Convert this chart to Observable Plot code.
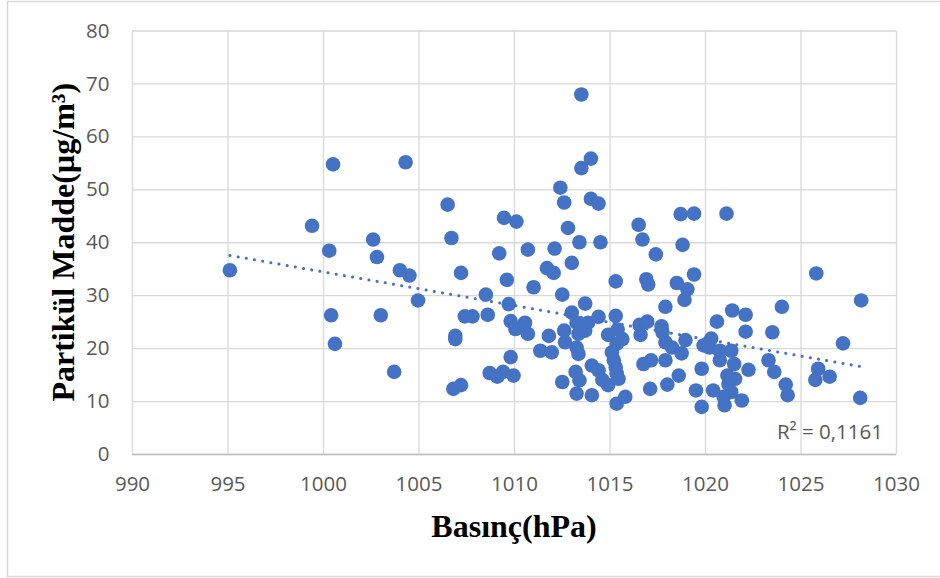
<!DOCTYPE html>
<html>
<head>
<meta charset="utf-8">
<script src="https://cdn.jsdelivr.net/npm/d3@7"></script>
<script src="https://cdn.jsdelivr.net/npm/@observablehq/plot@0.6"></script>
<style>
  html, body { margin: 0; padding: 0; background: #fff; }
  #chart { width: 940px; height: 578px; }
</style>
</head>
<body>
<div id="chart"></div>
<script>
const pressure = [
  995.1, 999.4, 1000.5, 1000.3, 1000.4, 1000.6, 1002.6, 1002.8, 1003.0, 1003.7,
  1004.0, 1004.5, 1004.3, 1004.95, 1006.5, 1006.7, 1006.9, 1006.9, 1006.8, 1007.2,
  1007.2, 1007.4, 1007.8, 1008.5, 1008.6, 1008.7, 1009.1, 1009.45, 1009.2, 1009.6,
  1009.7, 1009.8, 1009.8, 1009.4, 1009.95, 1010.1, 1010.05, 1010.55, 1010.7, 1010.7,
  1011.0, 1011.35, 1011.95, 1011.7, 1012.05, 1011.8, 1012.1, 1012.4, 1012.6, 1012.8,
  1012.5, 1013.0, 1012.6, 1012.65, 1012.5, 1013.0, 1013.25, 1013.85, 1013.35, 1013.7,
  1013.25, 1013.35, 1013.2, 1013.4, 1013.25, 1013.5, 1013.5, 1014.0, 1014.0, 1014.4,
  1013.4, 1014.5, 1013.7, 1014.4, 1014.05, 1014.4, 1014.6, 1014.9, 1014.05, 1014.9,
  1015.4, 1015.65, 1015.35, 1015.1, 1015.2, 1015.3, 1015.35, 1015.45, 1015.35, 1015.8,
  1015.3, 1015.3, 1016.5, 1016.7, 1017.4, 1018.7, 1019.4, 1018.8, 1019.4, 1016.9,
  1017.0, 1018.5, 1019.05, 1018.9, 1017.9, 1016.55, 1016.95, 1017.7, 1016.6, 1017.75,
  1017.9, 1018.25, 1018.95, 1018.75, 1019.9, 1016.75, 1017.15, 1017.9, 1018.6, 1018.0,
  1017.1, 1019.5, 1019.8, 1019.8, 1021.1, 1020.3, 1020.2, 1020.75, 1021.35, 1020.75,
  1021.5, 1022.25, 1021.15, 1021.55, 1021.2, 1021.35, 1020.4, 1020.95, 1021.0, 1021.9,
  1021.4, 1022.1, 1024.0, 1020.6, 1022.1, 1023.5, 1023.3, 1023.6, 1024.2, 1024.3,
  1025.8, 1025.9, 1026.5, 1025.75, 1027.2, 1028.15, 1028.1
];
const pm = [
  34.8, 43.2, 54.8, 38.5, 26.3, 20.9, 40.6, 37.3, 26.3, 15.6,
  34.8, 33.8, 55.2, 29.1, 47.2, 40.9, 22.4, 21.8, 12.4, 13.1,
  34.3, 26.1, 26.1, 30.2, 26.4, 15.4, 14.7, 44.7, 38.0, 33.0,
  28.4, 25.2, 18.4, 15.6, 14.9, 44.0, 23.7, 24.9, 22.8, 38.7,
  31.6, 19.6, 19.3, 35.2, 34.3, 22.4, 38.9, 50.4, 47.6, 42.8,
  30.2, 36.2, 23.4, 21.2, 13.7, 26.8, 24.9, 24.9, 22.8, 23.4,
  20.2, 19.0, 15.6, 14.0, 11.5, 68.0, 54.1, 55.9, 48.3, 47.4,
  40.1, 40.1, 28.5, 26.0, 16.8, 15.9, 14.1, 13.1, 11.2, 22.6,
  23.6, 21.8, 20.9, 19.3, 17.8, 16.5, 15.3, 14.3, 9.6, 10.9,
  26.2, 32.7, 43.4, 40.6, 37.8, 45.4, 45.5, 39.6, 34.0, 33.1,
  32.1, 32.4, 31.2, 29.2, 27.9, 24.5, 25.1, 24.2, 22.6, 23.1,
  21.2, 20.2, 21.6, 19.1, 20.6, 17.1, 17.8, 17.8, 14.9, 13.2,
  12.4, 12.1, 16.2, 9.0, 45.5, 21.9, 20.2, 19.6, 19.6, 17.8,
  17.1, 16.0, 14.9, 14.3, 13.3, 11.8, 12.1, 10.9, 9.3, 10.2,
  27.2, 26.4, 27.9, 25.1, 23.2, 23.1, 17.8, 15.6, 13.2, 11.2,
  34.2, 16.2, 14.7, 14.1, 21.0, 29.1, 10.7
];
const trendX = [995.1, 1028.15];
const trendY = [37.6, 16.6];
const xTicks = [990, 995, 1000, 1005, 1010, 1015, 1020, 1025, 1030];
const yTicks = [0, 10, 20, 30, 40, 50, 60, 70, 80];
const xTitle = "Basınç(hPa)";
const yTitle = "Partikül Madde(µg/m³)";
const r2Label = "R² = 0,1161";

const points = pressure.map((p, i) => ({x: p, y: pm[i]}));
const trend = trendX.map((x, i) => ({x, y: trendY[i]}));

const W = 940, H = 578;
const plot = Plot.plot({
  width: W,
  height: H,
  marginLeft: 132,
  marginRight: 44,
  marginTop: 30.5,
  marginBottom: 124,
  style: {fontFamily: "'Open Sans', sans-serif", fontSize: "20.5px", color: "#595959", background: "#fff"},
  x: {domain: [990, 1030], ticks: xTicks, label: null},
  y: {domain: [0, 80], ticks: yTicks, label: null},
  marks: [
    Plot.gridX(xTicks, {stroke: "#d9d9d9", strokeOpacity: 1, strokeWidth: 1.3}),
    Plot.gridY(yTicks, {stroke: "#d9d9d9", strokeOpacity: 1, strokeWidth: 1.3}),
    Plot.ruleY([0], {stroke: "#bfbfbf", strokeWidth: 1.3}),
    Plot.axisX(xTicks, {tickSize: 0, tickPadding: 22, label: null, fill: "#595959", tickFormat: d => String(d)}),
    Plot.axisY(yTicks, {tickSize: 0, tickPadding: 23, label: null, fill: "#595959", tickFormat: d => String(d)}),
    Plot.dot(points, {x: "x", y: "y", r: 7.3, fill: "#4472C4", stroke: "none"}),
    Plot.line(trend, {x: "x", y: "y", stroke: "#4472C4", strokeWidth: 3, strokeDasharray: "0.1 8.2", strokeLinecap: "round"})
  ]
});

const svg = d3.select(plot);
// outer chart border
svg.insert("rect", ":first-child")
  .attr("x", 7.5).attr("y", 1.5).attr("width", 960).attr("height", 575)
  .attr("fill", "none").attr("stroke", "#d9d9d9").attr("stroke-width", 1.5);

const xs = plot.scale("x"), ys = plot.scale("y");
const fx0 = xs.apply(990), fx1 = xs.apply(1030);
const fy0 = ys.apply(0), fy1 = ys.apply(80);

svg.append("text")
  .attr("x", (fx0 + fx1) / 2).attr("y", 537)
  .attr("text-anchor", "middle")
  .attr("font-family", "'Liberation Serif', 'Times New Roman', serif")
  .attr("font-weight", "bold").attr("font-size", 32).attr("fill", "#000")
  .text(xTitle);

svg.append("text")
  .attr("transform", `translate(73.5,${(fy0 + fy1) / 2}) rotate(-90)`)
  .attr("text-anchor", "middle")
  .attr("font-family", "'Liberation Serif', 'Times New Roman', serif")
  .attr("font-weight", "bold").attr("font-size", 32).attr("fill", "#000")
  .text(yTitle);

svg.append("text")
  .attr("x", 883).attr("y", 439)
  .attr("text-anchor", "end")
  .attr("font-family", "'Open Sans', sans-serif")
  .attr("font-size", 20.5).attr("fill", "#595959")
  .text(r2Label);

document.getElementById("chart").appendChild(plot);
</script>
</body>
</html>
